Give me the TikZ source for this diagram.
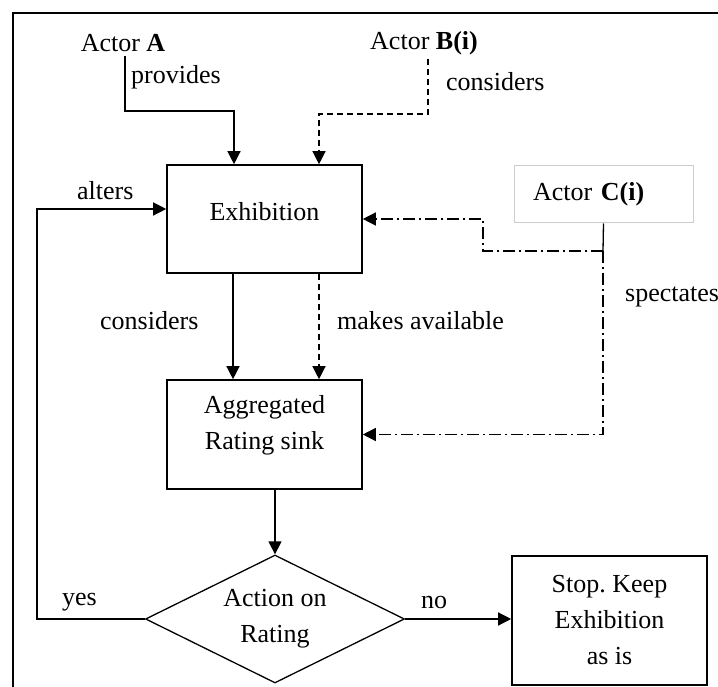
\documentclass[tikz,border=0pt]{standalone}
\usepackage{fontspec}
\setmainfont{Liberation Serif}
\usetikzlibrary{arrows.meta,shapes.geometric}

\begin{document}
\begin{tikzpicture}[x=1pt,y=-1pt,
  every node/.style={font=\fontsize{26}{36}\selectfont},
  box/.style={draw=black,line width=1.6pt,rectangle,inner sep=0pt},
  txt/.style={inner sep=0pt},
  lbl/.style={inner sep=0pt,anchor=west},
  link/.style={line width=1.3pt,-{Triangle[length=13pt,width=13pt]}},
  plainlink/.style={line width=1.3pt},
  dashlink/.style={link,dash pattern=on 6pt off 4pt},
  ddlink/.style={line width=1.3pt,dash pattern=on 12pt off 4pt on 2pt off 4pt},
  ddarrow/.style={ddlink,-{Triangle[length=13pt,width=13pt]}}]

  \clip (0,0) rectangle (718,687);
  \useasboundingbox (0,0) rectangle (718,687);
  \fill[white] (0,0) rectangle (718,687);

  % outer frame
  \draw[line width=1.6pt] (13,13) rectangle (760,740);

  % actors
  \node[txt,inner sep=4pt] (actA) at (123,43) {Actor \textbf{A}};
  \node[txt,inner sep=4pt] (actB) at (424,43) {Actor \textbf{B(i)}};
  \node[draw=black!20,line width=1pt,rectangle,minimum width=179pt,minimum height=57pt,
        text width=141pt,inner xsep=19pt,align=left] (actC) at (603.5,194.5) {Actor \textbf{C(i)}};

  % process boxes
  \node[box,minimum width=195pt,minimum height=108pt] (exh) at (264.5,219) {};
  \node[txt] (exhT) at (264.5,212) {Exhibition};
  \node[box,minimum width=195pt,minimum height=109pt] (agg) at (264.5,434.5) {};
  \node[txt,align=center] (aggT) at (264.5,425) {Aggregated\\Rating sink};
  \node[draw=black,line width=1.3pt,shape=diamond,aspect=2.02,minimum width=259pt,
        minimum height=128pt,inner sep=0pt,align=center] (dia) at (275,619) {Action on\\Rating};
  \node[box,minimum width=195pt,minimum height=129pt,align=center] (stop) at (609.5,620.5)
        {Stop.~Keep\\Exhibition\\as is};

  % connectors from the actors
  \draw[link] ([xshift=2pt]actA.south) -- ++(0,55) -| ([xshift=-30.5pt]exh.north);
  \draw[dashlink] ([xshift=4pt]actB.south) -- ++(0,55) -| ([xshift=54.5pt]exh.north);

  \coordinate (cj) at (603,251);
  \coordinate (cbend) at (483,251);
  \draw[plainlink] (actC.south) -- (cj);
  \draw[ddarrow] (cj) -- (cbend) |- (exh.east);
  \draw[ddarrow] (cj) |- (agg.east);

  % exhibition to rating sink
  \draw[link] ([xshift=-31.5pt]exh.south) -- ([xshift=-31.5pt]agg.north);
  \draw[dashlink] ([xshift=54.5pt]exh.south) -- ([xshift=54.5pt]agg.north);

  % rating sink to decision
  \draw[link] (agg.south -| dia.north) -- (dia.north);

  % decision outcomes
  \coordinate (loopTop) at (37,209);
  \draw[link] (dia.west) -| (loopTop) -- (loopTop -| exh.west);
  \draw[link] (dia.east) -- (dia.east -| stop.west);

  % labels
  \node[lbl] (lProv) at (131,77) {provides};
  \node[lbl] (lConsB) at (446,82) {considers};
  \node[lbl] (lAlt) at (77,191) {alters};
  \node[lbl] (lCons) at (100,321) {considers};
  \node[lbl] (lMake) at (337,321) {makes available};
  \node[lbl] (lSpec) at (625,297) {spectates};
  \node[lbl] (lYes) at (62,602) {yes};
  \node[lbl] (lNo) at (421,602) {no};
\end{tikzpicture}
\end{document}
